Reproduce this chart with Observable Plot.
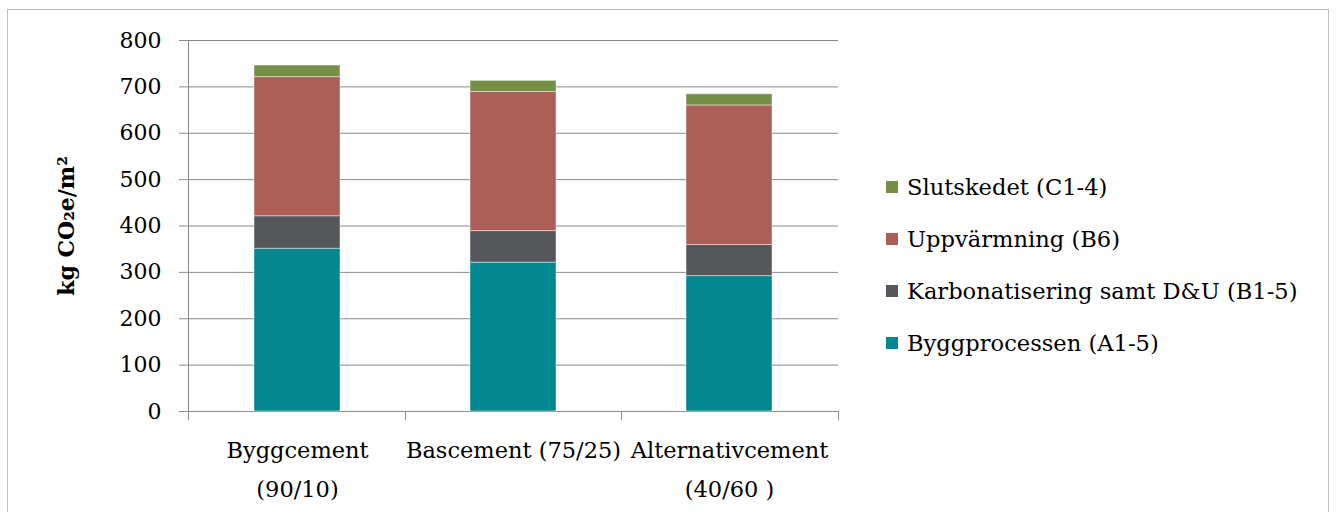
<!DOCTYPE html>
<html>
<head>
<meta charset="utf-8">
<script src="https://cdn.jsdelivr.net/npm/d3@7"></script>
<script src="https://cdn.jsdelivr.net/npm/@observablehq/plot@0.6"></script>
<style>
  html, body { margin: 0; padding: 0; background: #fff; }
  #wrap { position: relative; width: 1339px; height: 512px; overflow: hidden; font-family: "DejaVu Serif", serif; }
  #border { position: absolute; left: 7px; top: 9px; width: 1322px; height: 520px; border: 1px solid #bfbfbf; box-sizing: border-box; }
  #chart { position: absolute; left: 0; top: 0; }
  #legend { position: absolute; left: 886px; top: 161px; font-size: 22.6px; color: #000; }
  #legend .row { display: flex; align-items: center; height: 52px; line-height: 28px; white-space: nowrap; }
  #legend .sw { width: 12px; height: 12px; margin-right: 9px; flex: none; }
  g[aria-label="y-axis label"] text { font-weight: bold; }
</style>
</head>
<body>
<div id="wrap">
  <div id="border"></div>
  <div id="chart"></div>
  <div id="legend"></div>
</div>
<script>
// Categories (x axis)
const categories = ["Byggcement\n(90/10)", "Bascement (75/25)", "Alternativcement\n(40/60 )"];
// Series names (bottom to top in the stack)
const seriesNames = ["Byggprocessen (A1-5)", "Karbonatisering samt D&U (B1-5)", "Uppvärmning (B6)", "Slutskedet (C1-4)"];
// Series values, one per category
const byggprocessen = [351, 321, 292];
const karbonatisering = [70, 68, 67];
const uppvarmning = [300, 300, 301];
const slutskedet = [25, 24, 24];
// Colours per series
const seriesColors = ["#00878f", "#56575b", "#ad5f57", "#768f46"];
// Y ticks
const yTicks = [0, 100, 200, 300, 400, 500, 600, 700, 800];
const yLabel = "kg CO\u2082e/m\u00b2";

const seriesValues = [byggprocessen, karbonatisering, uppvarmning, slutskedet];
const data = [];
seriesNames.forEach((s, si) => {
  categories.forEach((c, ci) => data.push({category: c, series: s, value: seriesValues[si][ci]}));
});

const W = 1339, H = 512;
const mLeft = 188, mRight = 501, mTop = 40, mBottom = 101;
const gridColor = "#8a8a8a";

// Custom mark: y axis line and category boundary ticks
function frameTicks(index, scales, values, dims) {
  const g = d3.create("svg:g").attr("stroke", gridColor).attr("stroke-width", 1);
  const x0 = dims.marginLeft, x1 = dims.width - dims.marginRight;
  const y0 = dims.height - dims.marginBottom, yTop = dims.marginTop;
  g.append("line").attr("x1", x0 + 0.5).attr("x2", x0 + 0.5).attr("y1", yTop).attr("y2", y0 + 9);
  const n = categories.length;
  for (let i = 0; i <= n; i++) {
    const x = Math.round(x0 + (x1 - x0) * i / n) + 0.5;
    g.append("line").attr("x1", x).attr("x2", x).attr("y1", y0).attr("y2", y0 + 9);
  }
  return g.node();
}

const chart = Plot.plot({
  width: W,
  height: H,
  marginLeft: mLeft,
  marginRight: mRight,
  marginTop: mTop,
  marginBottom: mBottom,
  style: {fontFamily: "DejaVu Serif, serif", fontSize: "22px", color: "#000", background: "transparent"},
  x: {domain: categories, paddingInner: 0.6, paddingOuter: 0.3},
  y: {domain: [0, 800]},
  color: {domain: seriesNames, range: seriesColors},
  marks: [
    Plot.gridY(yTicks, {stroke: gridColor, strokeOpacity: 1, strokeWidth: 1}),
    Plot.barY(data, {x: "category", y: "value", fill: "series", stroke: "#ffffff", strokeOpacity: 0.45, strokeWidth: 1}),
    Plot.axisY(yTicks, {tickSize: 9, tickPadding: 18, stroke: gridColor, fontSize: 22, label: yLabel, labelAnchor: "center", labelArrow: "none", labelOffset: 130}),
    Plot.axisX({tickSize: 0, tickPadding: 19, fontSize: 22.5, lineHeight: 1.72, label: null}),
    frameTicks
  ]
});
document.getElementById("chart").appendChild(chart);

// Legend (top to bottom = reverse stack order)
const legend = d3.select("#legend");
seriesNames.slice().reverse().forEach((s) => {
  const i = seriesNames.indexOf(s);
  const row = legend.append("div").attr("class", "row");
  row.append("div").attr("class", "sw").style("background", seriesColors[i]);
  row.append("span").text(s);
});
</script>
</body>
</html>
